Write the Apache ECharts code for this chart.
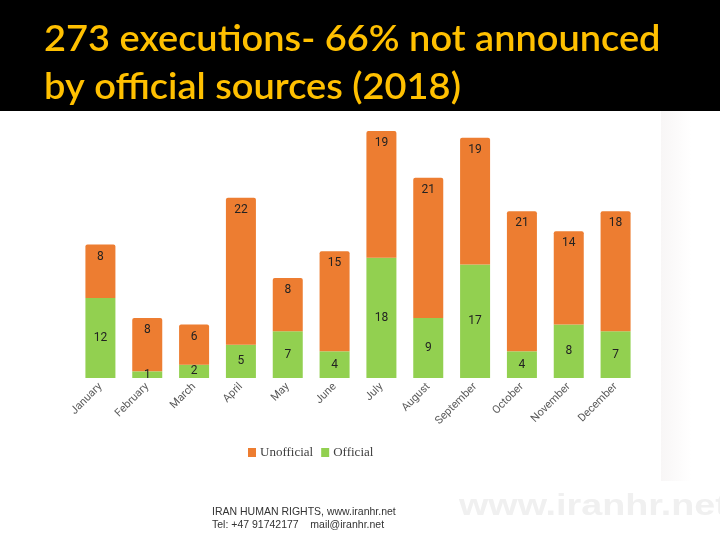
<!DOCTYPE html>
<html><head><meta charset="utf-8">
<script src="https://cdn.jsdelivr.net/npm/echarts@6/dist/echarts.min.js"></script>
<style>html,body{margin:0;padding:0;background:#fff;}#c{width:720px;height:540px;}</style>
</head><body><div id="c"></div>
<script>
var months = ['January','February','March','April','May','June','July','August','September','October','November','December'];
var official = [12, 1, 2, 5, 7, 4, 18, 9, 17, 4, 8, 7];
var unofficial = [8, 8, 6, 22, 8, 15, 19, 21, 19, 21, 14, 18];
var titleLines = ['273 executions- 66% not announced', 'by official sources (2018)'];
var footerLines = ['IRAN HUMAN RIGHTS, www.iranhr.net', 'Tel: +47 91742177    mail@iranhr.net'];

var chart = echarts.init(document.getElementById('c'), null, {renderer: 'canvas'});
chart.setOption({
  animation: false,
  backgroundColor: '#ffffff',
  graphic: [
    {type: 'rect', left: 0, top: 0, z: -10, shape: {width: 720, height: 111}, style: {fill: '#000'}},
    {type: 'rect', left: 661, top: 111, z: -10, shape: {width: 30, height: 370},
      style: {fill: new echarts.graphic.LinearGradient(0,0,1,0,[{offset:0,color:'#f8f6f6'},{offset:1,color:'#ffffff'}])}},
    {type: 'text', x: 44, y: 21, scaleX: 1.055, style: {text: titleLines[0], fill: '#FFC000', font: '600 36px Lato'}},
    {type: 'text', x: 44, y: 69, scaleX: 1.055, style: {text: titleLines[1], fill: '#FFC000', font: '600 36px Lato'}},
    {type: 'text', left: 212, top: 507, style: {text: footerLines[0], fill: '#333', font: '10.5px "Liberation Sans"'}},
    {type: 'text', left: 212, top: 520, style: {text: footerLines[1], fill: '#333', font: '10.5px "Liberation Sans"'}},
    {type: 'text', x: 459, y: 492, scaleX: 1.3, z: -5, style: {text: 'www.iranhr.net', fill: '#f0f0f0', font: 'bold 29px "Liberation Sans"'}}
  ],
  legend: {
    data: ['Unofficial', 'Official'],
    left: 243, top: 441,
    icon: 'rect', itemWidth: 8, itemHeight: 9, itemGap: 8,
    textStyle: {fontFamily: 'Liberation Serif', fontSize: 13, color: '#404040', padding: [0,0,0,-1]}
  },
  grid: {left: 77, top: 111, width: 562, height: 267, containLabel: false},
  xAxis: {
    type: 'category', data: months,
    axisLine: {show: false}, axisTick: {show: false},
    axisLabel: {rotate: 45, fontSize: 11, fontFamily: 'Roboto', color: '#595959', margin: 7, interval: 0}
  },
  yAxis: {type: 'value', min: 0, max: 40, show: false, splitLine: {show: false}},
  series: [
    {name: 'Official', type: 'bar', stack: 'a', data: official, barWidth: 30,
      itemStyle: {color: '#92D050'},
      label: {show: true, position: 'inside', color: '#222', fontSize: 12, fontFamily: 'Roboto'}},
    {name: 'Unofficial', type: 'bar', stack: 'a', data: unofficial, barWidth: 30,
      itemStyle: {color: '#ED7D31', borderRadius: [2,2,0,0]},
      label: {show: true, position: 'insideTop', distance: 6, color: '#222', fontSize: 12, fontFamily: 'Roboto'}}
  ]
});
</script></body></html>
